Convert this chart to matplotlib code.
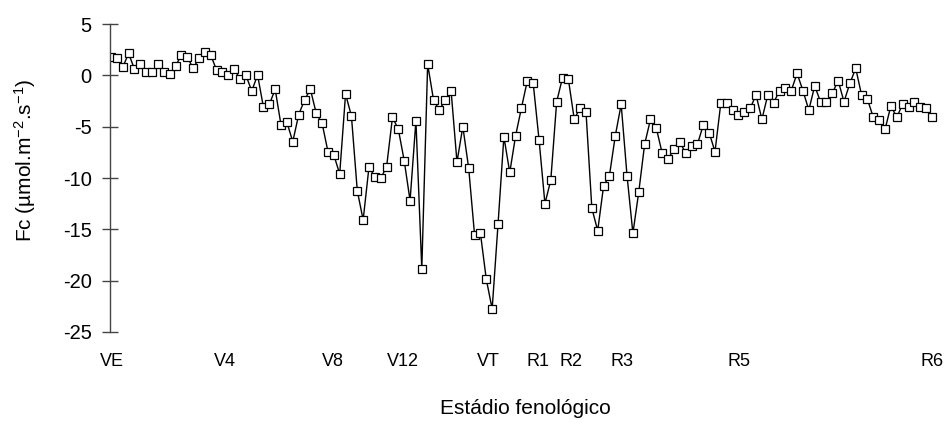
import numpy as np
import matplotlib
matplotlib.use("Agg")
import matplotlib.pyplot as plt

plt.rcParams['font.family'] = ['Liberation Sans', 'DejaVu Sans']
plt.rcParams['mathtext.fontset'] = 'custom'
plt.rcParams['mathtext.rm'] = 'Liberation Sans'
plt.rcParams['mathtext.it'] = 'Liberation Sans:italic'
plt.rcParams['axes.unicode_minus'] = False

# Fc values, one per day
fc = [1.81, 1.65, 0.78, 2.14, 0.61, 1.1, 0.35, 0.35, 1.1, 0.35, 0.1, 0.9, 1.98, 1.81, 0.68, 1.65, 2.27, 1.98, 0.52, 0.35,
      0.03, 0.61, -0.36, 0.03, -1.53, 0.03, -3.12, -2.83, -1.36, -4.87, -4.58, -6.46, -3.85, -2.4, -1.36, -3.7, -4.67, -7.44, -7.76, -9.61,
      -1.82, -3.96, -11.24, -14.09, -8.9, -9.93, -10.03, -8.9, -4.09, -5.25, -8.31, -12.2, -4.42, -18.86, 1.1, -2.4, -3.38, -2.4, -1.53, -8.44,
      -5.0, -9.06, -15.55, -15.39, -19.87, -22.76, -14.51, -5.98, -9.46, -5.88, -3.15, -0.52, -0.78, -6.3, -12.5, -10.2, -2.57, -0.23, -0.39, -4.28,
      -3.15, -3.54, -12.95, -15.13, -10.78, -9.77, -5.88, -2.83, -9.77, -15.39, -11.36, -6.72, -4.28, -5.16, -7.6, -8.15, -7.18, -6.46, -7.6, -6.85,
      -6.72, -4.84, -5.57, -7.44, -2.67, -2.67, -3.38, -3.87, -3.54, -3.21, -1.92, -4.28, -1.92, -2.67, -1.5, -1.2, -1.5, 0.19, -1.5, -3.38,
      -1.04, -2.57, -2.57, -1.75, -0.52, -2.57, -0.78, 0.68, -1.92, -2.34, -4.09, -4.35, -5.26, -2.96, -4.09, -2.8, -3.12, -2.63, -3.12, -3.21, -4.09]
days = np.arange(len(fc))

# phenological stages and the day they fall on
stages = ['VE', 'V4', 'V8', 'V12', 'VT', 'R1', 'R2', 'R3', 'R5', 'R6']
stage_day = [0.2, 19.4, 37.9, 49.7, 64.4, 72.8, 78.4, 87.2, 107.1, 140.1]

fig = plt.figure(figsize=(9.46, 4.24), dpi=100)
ax = fig.add_axes([110 / 946, 1 - 332 / 424, 830 / 946, 308 / 424])

ax.plot(days, fc, color='black', lw=1.0, marker='s', ms=5.2,
        mfc='white', mec='black', mew=0.9)

ax.set_xlim(-0.17, 141.37)
ax.set_ylim(-25, 5)
ax.set_yticks(np.arange(-25, 6, 5))
ax.set_xticks(stage_day)
ax.set_xticklabels(stages)

for s in ['top', 'right', 'bottom']:
    ax.spines[s].set_visible(False)
ax.spines['left'].set_color('#444444')
ax.spines['left'].set_linewidth(1.0)

ax.tick_params(axis='y', direction='inout', length=11, width=1.0,
               color='#444444', pad=7.6, labelsize=14.5)
ax.tick_params(axis='x', length=0, pad=15, labelsize=13)

ax.set_xlabel('Estádio fenológico', fontsize=15, labelpad=21)
fig.text(25 / 946, 1 - 160 / 424, 'Fc (µmol.m$^{-2}$.s$^{-1}$)', rotation=90,
         ha='center', va='center', fontsize=15)

fig.savefig('out.png', dpi=100)
